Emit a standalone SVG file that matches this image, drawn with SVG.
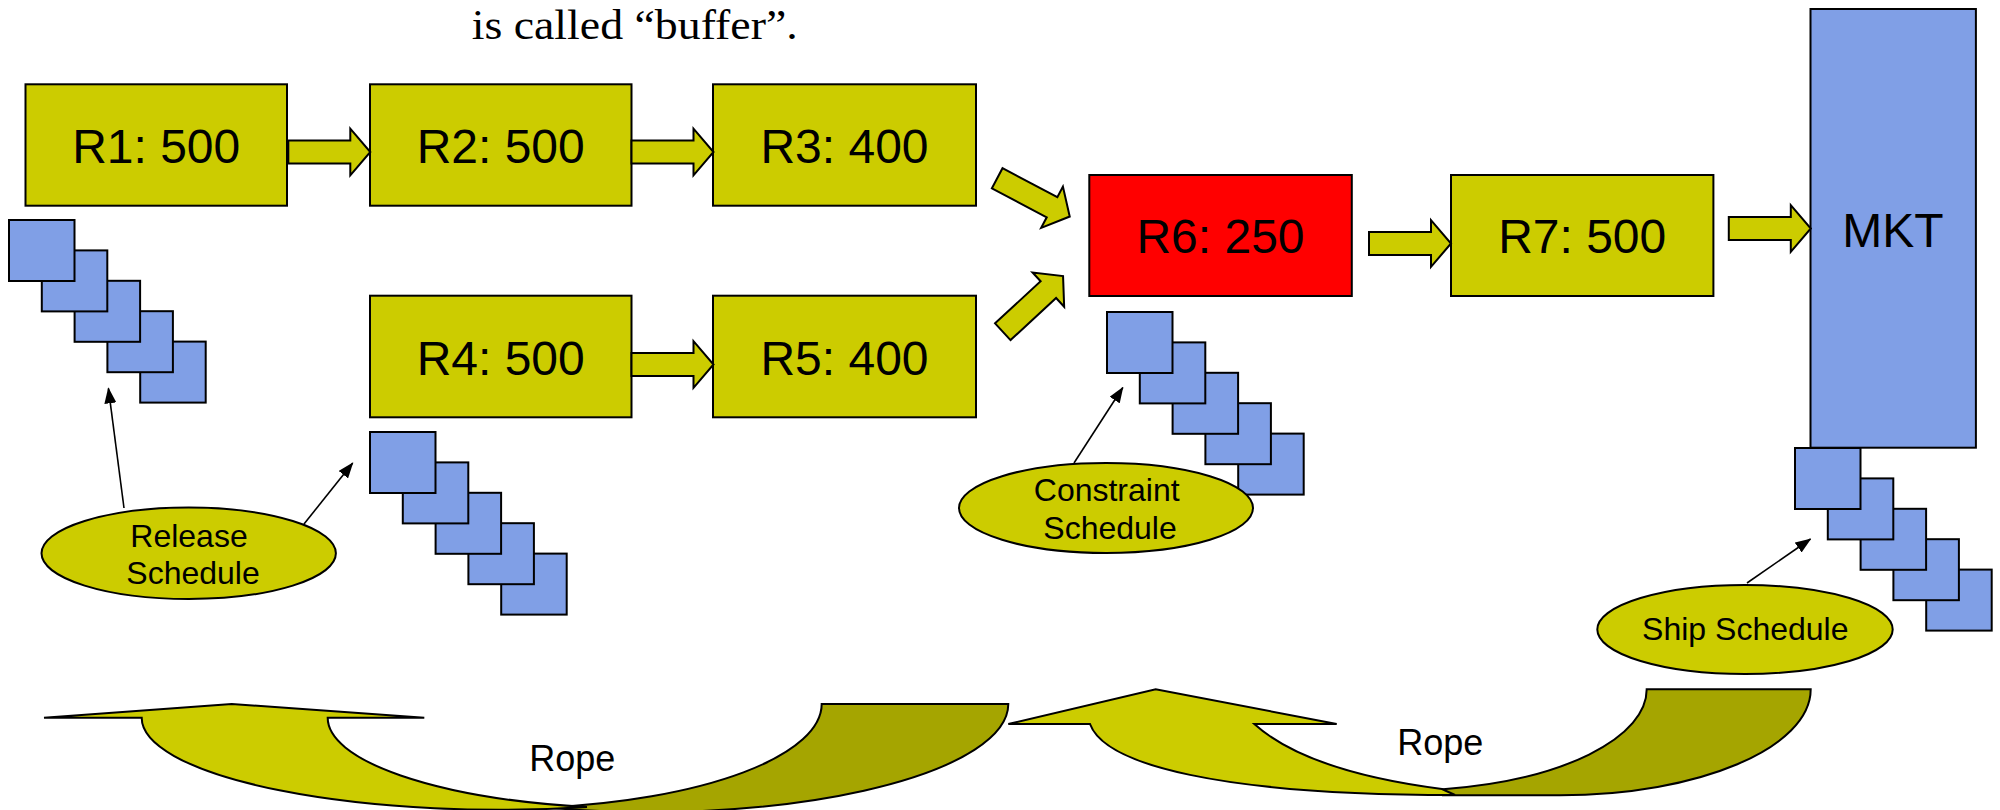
<svg xmlns="http://www.w3.org/2000/svg" width="2000" height="810" viewBox="0 0 2000 810">
<style>
.box{fill:#CCCC00;stroke:#000;stroke-width:2}
.red{fill:#FF0000;stroke:#000;stroke-width:2}
.blue{fill:#809FE6;stroke:#000;stroke-width:2}
.lbl{font-family:"Liberation Sans",Arial,sans-serif;font-size:48px;fill:#000;text-anchor:middle}
.small{font-family:"Liberation Sans",Arial,sans-serif;font-size:32px;fill:#000;text-anchor:middle}
.rope{font-family:"Liberation Sans",Arial,sans-serif;font-size:36px;fill:#000}
.ell{fill:#CCCC00;stroke:#000;stroke-width:2}
.barrow{fill:#CCCC00;stroke:#000;stroke-width:2;stroke-linejoin:miter}
.thin{stroke:#000;stroke-width:1.6;fill:none}
.lite{fill:#CCCC00;stroke:#000;stroke-width:2;stroke-linejoin:miter}
.dark{fill:#A5A500;stroke:#000;stroke-width:2}
</style>
<defs>
<path id="ba" d="M0,-11.4 H62 V-23.3 L82,0 L62,23.3 V11.4 H0 Z"/>
<marker id="ah" markerWidth="16" markerHeight="12" refX="15" refY="6" orient="auto" markerUnits="userSpaceOnUse">
<path d="M0,0 L16,6 L0,12 Z" fill="#000"/>
</marker>
</defs>

<text x="471.7" y="39" font-family="Liberation Serif,'Times New Roman',serif" font-size="42" textLength="326" lengthAdjust="spacingAndGlyphs" fill="#000">is called “buffer”.</text>

<g id="R1"><rect class="box" x="25.5" y="84.3" width="261.5" height="121.4"/><text class="lbl" x="156.2" y="163">R1: 500</text></g>
<g id="R2"><rect class="box" x="370" y="84.3" width="261.5" height="121.4"/><text class="lbl" x="500.7" y="163">R2: 500</text></g>
<g id="R3"><rect class="box" x="713" y="84.3" width="263" height="121.4"/><text class="lbl" x="844.5" y="163">R3: 400</text></g>
<g id="R4"><rect class="box" x="370" y="295.7" width="261.5" height="121.6"/><text class="lbl" x="500.7" y="374.5">R4: 500</text></g>
<g id="R5"><rect class="box" x="713" y="295.7" width="263" height="121.6"/><text class="lbl" x="844.5" y="374.5">R5: 400</text></g>
<g id="R6"><rect class="red" x="1089.3" y="175" width="262.5" height="121"/><text class="lbl" x="1220.5" y="253.3">R6: 250</text></g>
<g id="R7"><rect class="box" x="1451" y="175" width="262.4" height="121"/><text class="lbl" x="1582.2" y="253.3">R7: 500</text></g>
<g id="MKT"><rect class="blue" x="1810.5" y="9" width="165.4" height="438.7"/><text class="lbl" x="1893" y="246.7">MKT</text></g>

<g id="buffer1">
<rect class="blue" x="140.2" y="341.6" width="65.5" height="61"/>
<rect class="blue" x="107.4" y="311.2" width="65.5" height="61"/>
<rect class="blue" x="74.6" y="280.8" width="65.5" height="61"/>
<rect class="blue" x="41.8" y="250.4" width="65.5" height="61"/>
<rect class="blue" x="9" y="220" width="65.5" height="61"/>
</g>
<g id="buffer2">
<rect class="blue" x="501.2" y="553.6" width="65.5" height="61"/>
<rect class="blue" x="468.4" y="523.2" width="65.5" height="61"/>
<rect class="blue" x="435.6" y="492.8" width="65.5" height="61"/>
<rect class="blue" x="402.8" y="462.4" width="65.5" height="61"/>
<rect class="blue" x="370" y="432" width="65.5" height="61"/>
</g>
<g id="buffer3">
<rect class="blue" x="1238.2" y="433.6" width="65.5" height="61"/>
<rect class="blue" x="1205.4" y="403.2" width="65.5" height="61"/>
<rect class="blue" x="1172.6" y="372.8" width="65.5" height="61"/>
<rect class="blue" x="1139.8" y="342.4" width="65.5" height="61"/>
<rect class="blue" x="1107" y="312" width="65.5" height="61"/>
</g>
<g id="buffer4">
<rect class="blue" x="1926.2" y="569.6" width="65.5" height="61"/>
<rect class="blue" x="1893.4" y="539.2" width="65.5" height="61"/>
<rect class="blue" x="1860.6" y="508.8" width="65.5" height="61"/>
<rect class="blue" x="1827.8" y="478.4" width="65.5" height="61"/>
<rect class="blue" x="1795" y="448" width="65.5" height="61"/>
</g>

<g id="release"><ellipse class="ell" cx="188.7" cy="553.3" rx="147.2" ry="45.7"/><text class="small" x="189" y="546.7">Release</text><text class="small" x="193" y="584">Schedule</text></g>
<g id="constraint"><ellipse class="ell" cx="1106" cy="508" rx="147" ry="45"/><text class="small" x="1106.7" y="500.7">Constraint</text><text class="small" x="1110" y="539.3">Schedule</text></g>
<g id="ship"><ellipse class="ell" cx="1745" cy="629.5" rx="147.7" ry="44.5"/><text class="small" x="1745.3" y="640">Ship Schedule</text></g>

<g id="rope1">
<path class="dark" d="M821.7,704 L1008.3,704 A358.3 108 0 0 1 547,807.5 A321.7 104.7 0 0 0 821.7,704 Z"/>
<path class="lite" d="M141.7,717.7 L44,717.7 L231.7,704 L424.3,717.7 L327.7,717.7 A322.3 90.9 0 0 0 587,807 A358.3 92 0 0 1 141.7,717.7 Z"/>
<text class="rope" x="529.3" y="770.7">Rope</text>
</g>
<g id="rope2">
<path class="dark" d="M1646.7,689.3 L1810.7,689.3 C1810.7,747.8 1698.5,795.3 1560,795.3 L1443,795.3 L1443,789.3 A246.7 101.5 0 0 0 1646.7,689.3 Z"/>
<path class="lite" d="M1090,724 L1008.3,724 L1155.7,689.3 L1336.7,724 L1254.3,724 C1289.4,755.6 1352,777.3 1442,789 L1455,795 C1220,795 1105,765 1090,724 Z"/>
<text class="rope" x="1397.3" y="755">Rope</text>
</g>

<g id="connectors">
<use href="#ba" class="barrow" transform="translate(288.3,152)"/>
<use href="#ba" class="barrow" transform="translate(631.5,152)"/>
<use href="#ba" class="barrow" transform="translate(631.5,364.5)"/>
<use href="#ba" class="barrow" transform="translate(997.2,178.3) rotate(27.8)"/>
<use href="#ba" class="barrow" transform="translate(1002.8,331.7) rotate(-42.7)"/>
<use href="#ba" class="barrow" transform="translate(1369,243.5)"/>
<use href="#ba" class="barrow" transform="translate(1728.8,228.5)"/>
<line class="thin" x1="124" y1="508" x2="108.4" y2="388.3" marker-end="url(#ah)"/>
<line class="thin" x1="304" y1="524" x2="352.7" y2="463" marker-end="url(#ah)"/>
<line class="thin" x1="1074" y1="463" x2="1122.8" y2="387.5" marker-end="url(#ah)"/>
<line class="thin" x1="1747" y1="583" x2="1810.5" y2="539" marker-end="url(#ah)"/>
</g>
</svg>
